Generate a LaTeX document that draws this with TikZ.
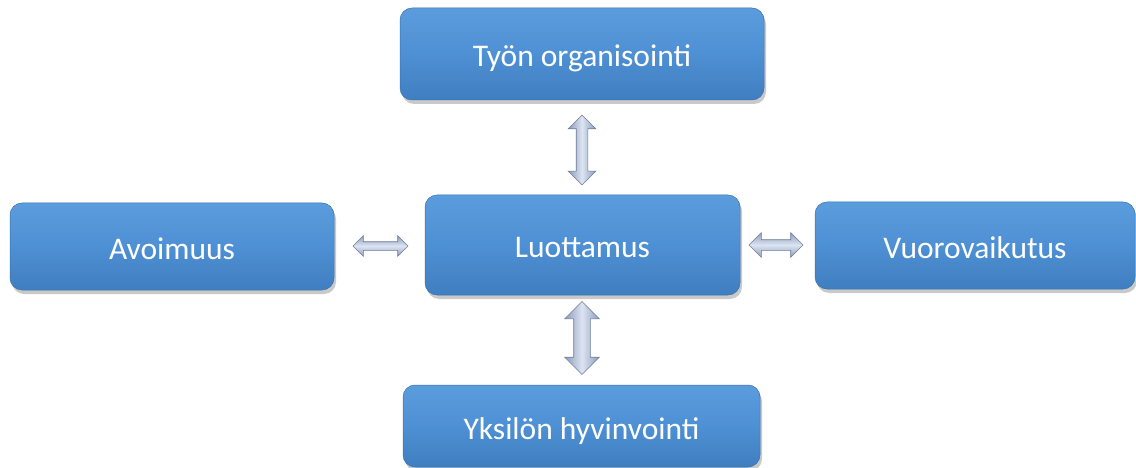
\documentclass[tikz,border=0pt]{standalone}
\usepackage{fontspec}
\setmainfont{Carlito}
\usetikzlibrary{shapes.arrows,shadows}
\definecolor{boxtop}{HTML}{5A9CDC}
\definecolor{boxmid}{HTML}{4E90D4}
\definecolor{boxbot}{HTML}{3F7EC0}
\definecolor{arrmid}{HTML}{DCE4F2}
\definecolor{arredge}{HTML}{8C9CBC}
\tikzset{
  box/.style={rectangle, rounded corners=12pt, draw=boxbot!90!black, line width=0.5pt,
    top color=boxtop, bottom color=boxbot, middle color=boxmid, text=white,
    font=\fontsize{31.5}{36}\selectfont, inner sep=0pt, text height=26pt, text depth=0pt,
    drop shadow={shadow xshift=2pt, shadow yshift=-4pt, opacity=0.3, fill=black!70}},
  darr/.style={double arrow, draw=arredge!80!black, line width=0.6pt,
    inner xsep=0pt,
    left color=arredge, right color=arredge, middle color=arrmid},
  harr/.style={darr, top color=arredge, bottom color=arredge, middle color=arrmid}
}
\begin{document}
\begin{tikzpicture}[x=1pt,y=-1pt]
\useasboundingbox (0,0) rectangle (1136,468);
\node[box, minimum width=364pt, minimum height=92pt] (top) at (582,54) {Työn organisointi};
\node[box, minimum width=315pt, minimum height=100pt] (mid) at (582.5,245) {Luottamus};
\node[box, minimum width=324pt, minimum height=87pt] (left) at (172,246.5) {Avoimuus};
\node[box, minimum width=320pt, minimum height=87pt] (right) at (975,245.5) {Vuorovaikutus};
\node[box, minimum width=357pt, minimum height=82pt] (bot) at (581.5,426) {Yksilön hyvinvointi};
% arrows
\node[darr, rotate=90, inner ysep=5.5pt, minimum height=70pt, double arrow head extend=8pt] (a1) at (582,150) {};
\node[darr, rotate=90, inner ysep=8pt, minimum height=73pt, double arrow head extend=9pt] (a2) at (582,338) {};
\node[harr, inner ysep=4pt, minimum height=55pt, double arrow head extend=6pt] (a3) at (380.5,246) {};
\node[harr, inner ysep=5pt, minimum height=54pt, double arrow head extend=7pt] (a4) at (776,245) {};
\end{tikzpicture}
\end{document}
